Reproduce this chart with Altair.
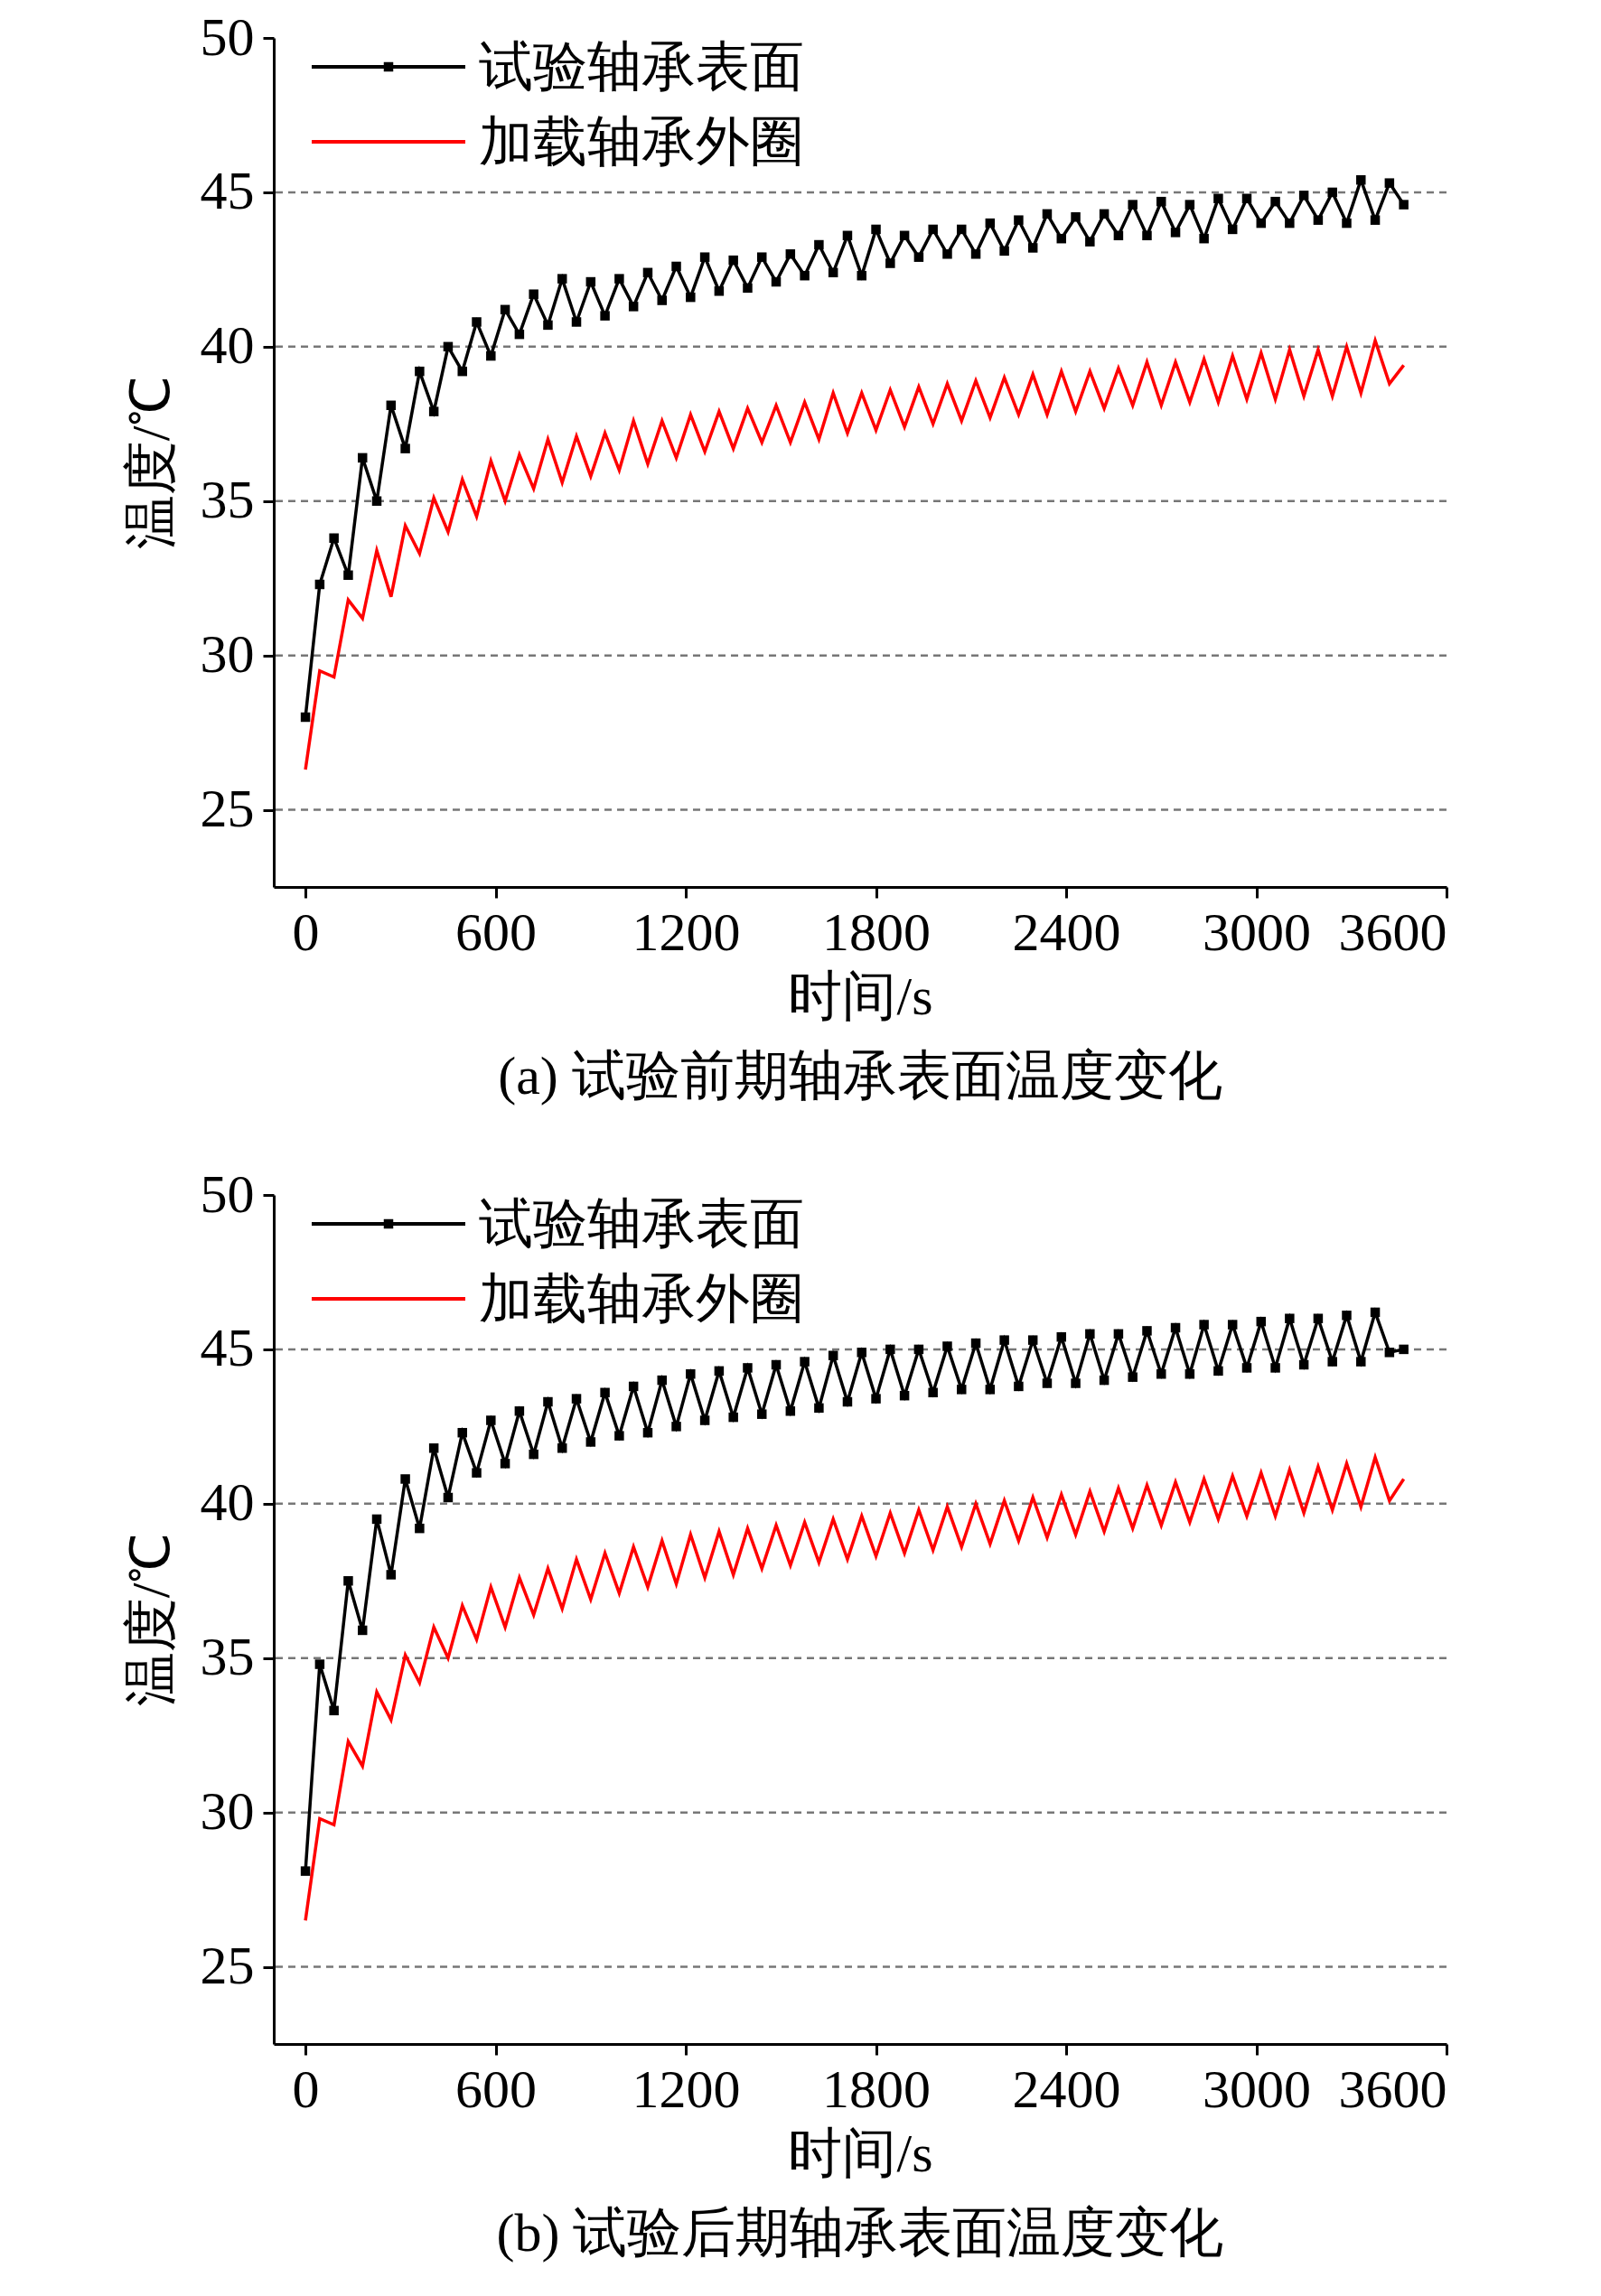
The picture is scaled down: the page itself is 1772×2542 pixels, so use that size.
import pandas as pd
import altair as alt

# sample times (s), shared by all four curves
times = [0, 45, 90, 135, 180, 225, 270, 315, 360, 405,
         450, 495, 540, 585, 630, 675, 720, 765, 810, 855,
         900, 945, 990, 1035, 1080, 1125, 1170, 1215, 1260, 1305,
         1350, 1395, 1440, 1485, 1530, 1575, 1620, 1665, 1710, 1755,
         1800, 1845, 1890, 1935, 1980, 2025, 2070, 2115, 2160, 2205,
         2250, 2295, 2340, 2385, 2430, 2475, 2520, 2565, 2610, 2655,
         2700, 2745, 2790, 2835, 2880, 2925, 2970, 3015, 3060, 3105,
         3150, 3195, 3240, 3285, 3330, 3375, 3420, 3465]

# (a) early test
a_surface = [28.0, 32.3, 33.8, 32.6, 36.4, 35.0, 38.1, 36.7, 39.2, 37.9,
             40.0, 39.2, 40.8, 39.7, 41.2, 40.4, 41.7, 40.7, 42.2, 40.8,
             42.1, 41.0, 42.2, 41.3, 42.4, 41.5, 42.6, 41.6, 42.9, 41.8,
             42.8, 41.9, 42.9, 42.1, 43.0, 42.3, 43.3, 42.4, 43.6, 42.3,
             43.8, 42.7, 43.6, 42.9, 43.8, 43.0, 43.8, 43.0, 44.0, 43.1,
             44.1, 43.2, 44.3, 43.5, 44.2, 43.4, 44.3, 43.6, 44.6, 43.6,
             44.7, 43.7, 44.6, 43.5, 44.8, 43.8, 44.8, 44.0, 44.7, 44.0,
             44.9, 44.1, 45.0, 44.0, 45.4, 44.1, 45.3, 44.6]
a_outer = [26.3, 29.5, 29.3, 31.8, 31.2, 33.4, 31.9, 34.2, 33.3, 35.1,
           34.0, 35.7, 34.5, 36.3, 35.0, 36.5, 35.4, 37.0, 35.6, 37.1,
           35.8, 37.2, 36.0, 37.6, 36.2, 37.6, 36.4, 37.8, 36.6, 37.9,
           36.7, 38.0, 36.9, 38.1, 36.9, 38.2, 37.0, 38.5, 37.2, 38.5,
           37.3, 38.6, 37.4, 38.7, 37.5, 38.8, 37.6, 38.9, 37.7, 39.0,
           37.8, 39.1, 37.8, 39.2, 37.9, 39.2, 38.0, 39.3, 38.1, 39.5,
           38.1, 39.5, 38.2, 39.6, 38.2, 39.7, 38.3, 39.8, 38.3, 39.9,
           38.4, 39.9, 38.4, 40.0, 38.5, 40.2, 38.8, 39.4]

# (b) late test
b_surface = [28.1, 34.8, 33.3, 37.5, 35.9, 39.5, 37.7, 40.8, 39.2, 41.8,
             40.2, 42.3, 41.0, 42.7, 41.3, 43.0, 41.6, 43.3, 41.8, 43.4,
             42.0, 43.6, 42.2, 43.8, 42.3, 44.0, 42.5, 44.2, 42.7, 44.3,
             42.8, 44.4, 42.9, 44.5, 43.0, 44.6, 43.1, 44.8, 43.3, 44.9,
             43.4, 45.0, 43.5, 45.0, 43.6, 45.1, 43.7, 45.2, 43.7, 45.3,
             43.8, 45.3, 43.9, 45.4, 43.9, 45.5, 44.0, 45.5, 44.1, 45.6,
             44.2, 45.7, 44.2, 45.8, 44.3, 45.8, 44.4, 45.9, 44.4, 46.0,
             44.5, 46.0, 44.6, 46.1, 44.6, 46.2, 44.9, 45.0]
b_outer = [26.5, 29.8, 29.6, 32.3, 31.5, 33.9, 33.0, 35.1, 34.2, 36.0,
           35.0, 36.7, 35.6, 37.3, 36.0, 37.6, 36.4, 37.9, 36.6, 38.2,
           36.9, 38.4, 37.1, 38.6, 37.3, 38.8, 37.4, 39.0, 37.6, 39.1,
           37.7, 39.2, 37.9, 39.3, 38.0, 39.4, 38.1, 39.5, 38.2, 39.6,
           38.3, 39.7, 38.4, 39.8, 38.5, 39.9, 38.6, 40.0, 38.7, 40.1,
           38.8, 40.2, 38.9, 40.3, 39.0, 40.4, 39.1, 40.5, 39.2, 40.6,
           39.3, 40.7, 39.4, 40.8, 39.5, 40.9, 39.6, 41.0, 39.6, 41.1,
           39.7, 41.2, 39.8, 41.3, 39.9, 41.5, 40.1, 40.8]

series_names = ["试验轴承表面", "加载轴承外圈"]
series_colors = ["black", "#ff0000"]
grid_values = [25, 30, 35, 40, 45]
captions = ["(a) 试验前期轴承表面温度变化", "(b) 试验后期轴承表面温度变化"]

FONT = "Liberation Serif"


def legend_layers():
    layers = []
    for i, (name, col) in enumerate(zip(series_names, series_colors)):
        yy = 32 + 83 * i
        layers.append(alt.Chart(pd.DataFrame({"n": [name]})).mark_rule(
            color=col, strokeWidth=4).encode(
            x=alt.value(42), x2=alt.value(212), y=alt.value(yy)))
        layers.append(alt.Chart(pd.DataFrame({"n": [name]})).mark_text(
            align="left", baseline="middle", font=FONT, fontSize=60, color="black").encode(
            x=alt.value(227), y=alt.value(yy + 2), text="n:N"))
    layers.append(alt.Chart(pd.DataFrame({"n": [series_names[0]]})).mark_point(
        shape="square", filled=True, size=110, color="black", opacity=1).encode(
        x=alt.value(127), y=alt.value(32)))
    return layers


def panel(surface, outer, caption):
    df = pd.concat([
        pd.DataFrame({"t": times, "T": surface, "s": series_names[0]}),
        pd.DataFrame({"t": times, "T": outer, "s": series_names[1]}),
    ])
    x = alt.X("t:Q", scale=alt.Scale(domain=[-100, 3600], nice=False),
              axis=alt.Axis(values=list(range(0, 3601, 600)), format="d", title="时间/s",
                            titlePadding=12))
    y = alt.Y("T:Q", scale=alt.Scale(domain=[22.5, 50], nice=False, zero=False),
              axis=alt.Axis(values=[25, 30, 35, 40, 45, 50], title="温度/℃",
                            titlePadding=22))
    color = alt.Color("s:N", scale=alt.Scale(domain=series_names, range=series_colors),
                      legend=None)
    grid = alt.Chart(pd.DataFrame({"g": grid_values})).mark_rule(
        color="#777", strokeDash=[8, 6], strokeWidth=2.5).encode(y=alt.Y("g:Q"))
    lines = alt.Chart(df).mark_line(strokeWidth=3.5).encode(x=x, y=y, color=color, order="t:Q")
    pts = alt.Chart(df[df.s == series_names[0]]).mark_point(
        shape="square", filled=True, size=110, color="black", opacity=1).encode(x=x, y=y)
    return alt.layer(grid, lines, pts, *legend_layers()).properties(
        width=1298, height=940,
        title=alt.TitleParams(caption, orient="bottom", fontSize=60, font=FONT,
                              fontWeight="normal", offset=30))


chart = alt.vconcat(
    panel(a_surface, a_outer, captions[0]),
    panel(b_surface, b_outer, captions[1]),
    spacing=70,
).configure_view(stroke=None).configure_axis(
    labelFont=FONT, titleFont=FONT, labelFontSize=60, titleFontSize=60,
    titleFontWeight="normal", labelColor="black", titleColor="black",
    domainColor="black", domainWidth=3, tickColor="black", tickWidth=3, tickSize=12,
    grid=False, labelPadding=10,
).properties(padding={"left": 130, "top": 4, "right": 20, "bottom": 10})

chart.save("out.html", embed_options={"renderer": "svg", "actions": False})
